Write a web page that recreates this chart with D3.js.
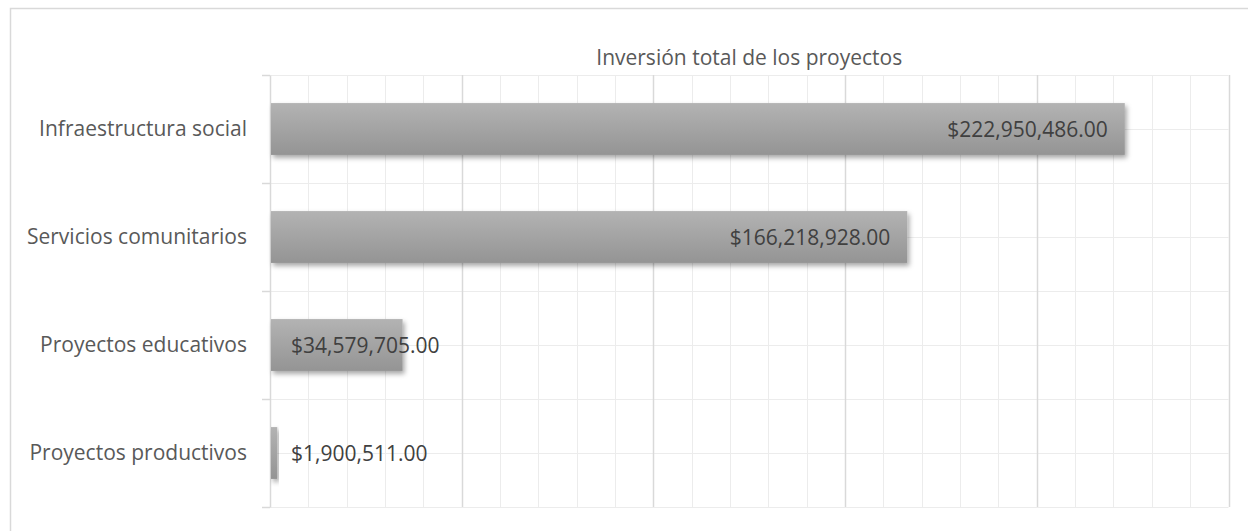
<!DOCTYPE html>
<html>
<head>
<meta charset="utf-8">
<script src="https://cdn.jsdelivr.net/npm/d3@7"></script>
<style>
  html, body { margin: 0; padding: 0; background: #fff; }
  svg { display: block; }
  text { font-family: "Open Sans", "Noto Sans", sans-serif; }
</style>
</head>
<body>
<svg id="chart" width="1248" height="531"></svg>
<script>
const title = "Inversión total de los proyectos";
const categories = ["Infraestructura social", "Servicios comunitarios", "Proyectos educativos", "Proyectos productivos"];
const values = [222950486, 166218928, 34579705, 1900511];
const xDomain = [0, 250000000];
const minorStep = 10000000;
const majorStep = 50000000;

const W = 1248, H = 531;
const plot = { left: 270, right: 1228.5, top: 75, bottom: 507 };
const FS = 21;
const svg = d3.select("#chart");

// defs: gradient + shadow
const defs = svg.append("defs");
const grad = defs.append("linearGradient").attr("id", "barGrad")
  .attr("x1", 0).attr("y1", 0).attr("x2", 0).attr("y2", 1);
grad.append("stop").attr("offset", "0%").attr("stop-color", "#b3b3b3");
grad.append("stop").attr("offset", "100%").attr("stop-color", "#949494");
const f = defs.append("filter").attr("id", "shadow")
  .attr("x", "-10%").attr("y", "-20%").attr("width", "130%").attr("height", "160%");
f.append("feDropShadow").attr("dx", 2).attr("dy", 3).attr("stdDeviation", 2.5)
  .attr("flood-color", "#000").attr("flood-opacity", 0.35);

// outer border
svg.append("rect").attr("x", 10.5).attr("y", 8.5).attr("width", W).attr("height", H)
  .attr("fill", "none").attr("stroke", "#d9d9d9").attr("stroke-width", 1.5);

const x = d3.scaleLinear().domain(xDomain).range([plot.left, plot.right]);
const y = d3.scaleBand().domain(categories).range([plot.top, plot.bottom]).padding(0);

const xTicks = d3.range(xDomain[0], xDomain[1] + 1, minorStep);

// horizontal gridlines: band boundaries and centres
const hLines = [];
categories.forEach(c => { hLines.push(y(c)); hLines.push(y(c) + y.bandwidth() / 2); });
hLines.push(plot.bottom);
svg.append("g").selectAll("line").data(hLines).join("line")
  .attr("x1", plot.left).attr("x2", plot.right)
  .attr("y1", d => Math.round(d) + 0.5).attr("y2", d => Math.round(d) + 0.5)
  .attr("stroke", "#ececec").attr("stroke-width", 1);

// vertical gridlines
svg.append("g").selectAll("line").data(xTicks.filter(d => d > 0)).join("line")
  .attr("x1", d => Math.round(x(d)) + 0.5).attr("x2", d => Math.round(x(d)) + 0.5)
  .attr("y1", plot.top).attr("y2", plot.bottom)
  .attr("stroke", d => d % majorStep === 0 ? "#d9d9d9" : "#ececec")
  .attr("stroke-width", d => d % majorStep === 0 ? 1.5 : 1);

// y axis
const yAxis = d3.axisLeft(y).tickSize(0).tickPadding(23);
const gy = svg.append("g").attr("transform", `translate(${plot.left},0)`).call(yAxis);
gy.select(".domain").attr("stroke", "#d9d9d9").attr("stroke-width", 1.5);
gy.selectAll(".tick text").attr("font-size", FS).attr("fill", "#595959")
  .attr("font-family", "\"Open Sans\", sans-serif").attr("dy", "0.35em");
// boundary tick marks
const bounds = categories.map(c => y(c)).concat([plot.bottom]);
svg.append("g").selectAll("line").data(bounds).join("line")
  .attr("x1", plot.left - 8).attr("x2", plot.left)
  .attr("y1", d => Math.round(d) + 0.5).attr("y2", d => Math.round(d) + 0.5)
  .attr("stroke", "#d9d9d9").attr("stroke-width", 1.5);

// bars
const barH = y.bandwidth() * 0.48;
svg.append("g").selectAll("rect").data(categories).join("rect")
  .attr("x", x(0) + 1)
  .attr("y", c => y(c) + (y.bandwidth() - barH) / 2)
  .attr("width", (c, i) => x(values[i]) - x(0) - 1)
  .attr("height", barH)
  .attr("fill", "url(#barGrad)")
  .attr("filter", "url(#shadow)");

// value labels
const fmt = d3.format("$,.2f");
const labels = svg.append("g").selectAll("text").data(categories).join("text")
  .attr("y", c => y(c) + y.bandwidth() / 2)
  .attr("dy", "0.36em")
  .attr("text-anchor", "end")
  .attr("font-size", FS).attr("fill", "#404040")
  .text((c, i) => fmt(values[i]));
labels.each(function(c, i) {
  const w = this.getComputedTextLength();
  const xe = Math.max(x(values[i]) - 17, x(0) + 21 + w);
  d3.select(this).attr("x", xe);
});

// title
svg.append("text").attr("x", (plot.left + plot.right) / 2).attr("y", 65)
  .attr("text-anchor", "middle").attr("font-size", FS).attr("fill", "#595959")
  .text(title);
</script>
</body>
</html>
